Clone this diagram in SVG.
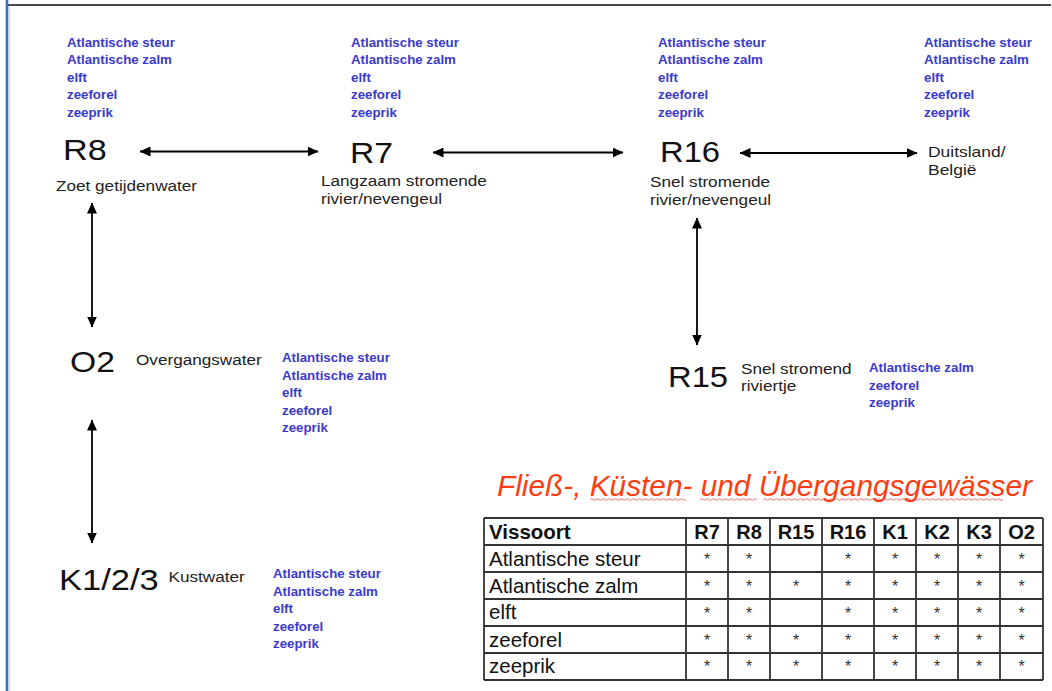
<svg xmlns="http://www.w3.org/2000/svg" width="1052" height="691" viewBox="0 0 1052 691">
<style>
.big{font-family:"Liberation Sans",Arial,sans-serif;font-size:29.5px;fill:#111}
.lbl{font-family:"Liberation Sans",Arial,sans-serif;font-size:14.3px;fill:#222}
.fish{font-family:"Liberation Sans",Arial,sans-serif;font-size:13.3px;font-weight:bold;fill:#3a3acc}
.tt{font-family:"Liberation Sans",Arial,sans-serif;font-size:20.5px;fill:#111}
.th{font-family:"Liberation Sans",Arial,sans-serif;font-size:20px;font-weight:bold;fill:#111;text-anchor:middle}
.star{font-family:"Liberation Sans",Arial,sans-serif;font-size:16px;fill:#333;text-anchor:middle}
.title{font-family:"Liberation Sans",Arial,sans-serif;font-size:29.8px;font-style:italic;fill:#ff3c0f}
.conn{stroke:#000;stroke-width:1.8;fill:none;marker-start:url(#ah);marker-end:url(#ah)}
.grid{stroke:#333;stroke-width:1.8;fill:none}
.squig{stroke:#e05050;stroke-width:0.8;fill:none}
</style>
<defs>
<marker id="ah" markerUnits="userSpaceOnUse" viewBox="0 0 11 10" refX="10.5" refY="5" markerWidth="11" markerHeight="10" orient="auto-start-reverse">
<path d="M0,0 L11,5 L0,10 z" fill="#000"/>
</marker>
</defs>
<rect width="1052" height="691" fill="#fff"/>
<g id="frame">
<line x1="7" y1="5" x2="1051" y2="5" stroke="#4a4a4a" stroke-width="2.2"/>
<line x1="7" y1="0" x2="7" y2="691" stroke="#2f6fbd" stroke-width="2.6"/>
<line x1="9.5" y1="7" x2="9.5" y2="691" stroke="#d8d8d8" stroke-width="1"/>
</g>
<g id="connectors">
<line class="conn" x1="140" y1="151.5" x2="318" y2="151.5"/>
<line class="conn" x1="433" y1="152.5" x2="623" y2="152.5"/>
<line class="conn" x1="740" y1="153" x2="917" y2="153"/>
<line class="conn" x1="92" y1="203" x2="92" y2="327"/>
<line class="conn" x1="92" y1="420" x2="92" y2="543"/>
<line class="conn" x1="697" y1="218" x2="697" y2="345"/>
</g>
<g id="node-R8">
<text class="fish" x="67" y="46.5">Atlantische steur</text>
<text class="fish" x="67" y="64">Atlantische zalm</text>
<text class="fish" x="67" y="81.5">elft</text>
<text class="fish" x="67" y="99">zeeforel</text>
<text class="fish" x="67" y="116.5">zeeprik</text>
<text class="big" transform="translate(63 160) scale(1.16 1)">R8</text>
<text class="lbl" transform="translate(56 190.5) scale(1.2 1)">Zoet getijdenwater</text>
</g>
<g id="node-R7">
<text class="fish" x="351" y="46.5">Atlantische steur</text>
<text class="fish" x="351" y="64">Atlantische zalm</text>
<text class="fish" x="351" y="81.5">elft</text>
<text class="fish" x="351" y="99">zeeforel</text>
<text class="fish" x="351" y="116.5">zeeprik</text>
<text class="big" transform="translate(350 163) scale(1.14 1)">R7</text>
<text class="lbl" transform="translate(321 185.5) scale(1.2 1)">Langzaam stromende</text>
<text class="lbl" transform="translate(321 204) scale(1.2 1)">rivier/nevengeul</text>
</g>
<g id="node-R16">
<text class="fish" x="658" y="46.5">Atlantische steur</text>
<text class="fish" x="658" y="64">Atlantische zalm</text>
<text class="fish" x="658" y="81.5">elft</text>
<text class="fish" x="658" y="99">zeeforel</text>
<text class="fish" x="658" y="116.5">zeeprik</text>
<text class="big" transform="translate(660 161.5) scale(1.11 1)">R16</text>
<text class="lbl" transform="translate(650 186.5) scale(1.2 1)">Snel stromende</text>
<text class="lbl" transform="translate(650 204.5) scale(1.2 1)">rivier/nevengeul</text>
</g>
<g id="node-DE-BE">
<text class="fish" x="924" y="46.5">Atlantische steur</text>
<text class="fish" x="924" y="64">Atlantische zalm</text>
<text class="fish" x="924" y="81.5">elft</text>
<text class="fish" x="924" y="99">zeeforel</text>
<text class="fish" x="924" y="116.5">zeeprik</text>
<text class="lbl" transform="translate(928 156.5) scale(1.22 1)">Duitsland/</text>
<text class="lbl" transform="translate(928 174.5) scale(1.22 1)">België</text>
</g>
<g id="node-O2">
<text class="big" transform="translate(70 372) scale(1.14 1)">O2</text>
<text class="lbl" transform="translate(136 364.5) scale(1.2 1)">Overgangswater</text>
<text class="fish" x="282" y="362">Atlantische steur</text>
<text class="fish" x="282" y="379.5">Atlantische zalm</text>
<text class="fish" x="282" y="397">elft</text>
<text class="fish" x="282" y="414.5">zeeforel</text>
<text class="fish" x="282" y="432">zeeprik</text>
</g>
<g id="node-R15">
<text class="big" transform="translate(668 387) scale(1.11 1)">R15</text>
<text class="lbl" transform="translate(741 373.5) scale(1.2 1)">Snel stromend</text>
<text class="lbl" transform="translate(741 391) scale(1.2 1)">riviertje</text>
<text class="fish" x="869" y="372">Atlantische zalm</text>
<text class="fish" x="869" y="389.5">zeeforel</text>
<text class="fish" x="869" y="407">zeeprik</text>
</g>
<g id="node-K">
<text class="big" transform="translate(59 589.5) scale(1.17 1)">K1/2/3</text>
<text class="lbl" transform="translate(168.5 582) scale(1.2 1)">Kustwater</text>
<text class="fish" x="273" y="578">Atlantische steur</text>
<text class="fish" x="273" y="595.5">Atlantische zalm</text>
<text class="fish" x="273" y="613">elft</text>
<text class="fish" x="273" y="630.5">zeeforel</text>
<text class="fish" x="273" y="648">zeeprik</text>
</g>
<g id="title">
<text class="title" x="497" y="495.5">Fließ-, Küsten- und Übergangsgewässer</text>
<path class="squig" d="M590,499.5 q1.5,-1.5 3,0 t3,0 t3,0 t3,0 t3,0 t3,0 t3,0 t3,0 t3,0 t3,0 t3,0 t3,0 t3,0 t3,0 t3,0 t3,0 t3,0 t3,0 t3,0 t3,0 t3,0 t3,0 t3,0 t3,0 t3,0 t3,0 t3,0 t3,0 t3,0 t3,0 t3,0 t3,0"/>
<path class="squig" d="M700,499.5 q1.5,-1.5 3,0 t3,0 t3,0 t3,0 t3,0 t3,0 t3,0 t3,0 t3,0 t3,0 t3,0 t3,0 t3,0 t3,0 t3,0 t3,0 t3,0 t3,0 t3,0"/>
<path class="squig" d="M763,499.5 q1.5,-1.5 3,0 t3,0 t3,0 t3,0 t3,0 t3,0 t3,0 t3,0 t3,0 t3,0 t3,0 t3,0 t3,0 t3,0 t3,0 t3,0 t3,0 t3,0 t3,0 t3,0 t3,0 t3,0 t3,0 t3,0 t3,0 t3,0 t3,0 t3,0 t3,0 t3,0 t3,0 t3,0 t3,0 t3,0 t3,0 t3,0 t3,0 t3,0 t3,0 t3,0 t3,0 t3,0 t3,0 t3,0 t3,0 t3,0 t3,0 t3,0 t3,0 t3,0 t3,0 t3,0 t3,0 t3,0 t3,0 t3,0 t3,0 t3,0 t3,0 t3,0 t3,0 t3,0 t3,0 t3,0 t3,0 t3,0 t3,0 t3,0 t3,0 t3,0 t3,0 t3,0 t3,0 t3,0 t3,0 t3,0 t3,0 t3,0 t3,0 t3,0"/>
</g>
<g id="table">
<path class="grid" d="M484,518H1043M484,545H1043M484,572H1043M484,599H1043M484,626H1043M484,653H1043M484,680H1043M484,518V680M686,518V680M728,518V680M770,518V680M822,518V680M874,518V680M916,518V680M958,518V680M1000,518V680M1043,518V680"/>
<text class="tt" x="489" y="539" font-weight="bold">Vissoort</text>
<text class="th" x="707" y="539">R7</text>
<text class="th" x="749" y="539">R8</text>
<text class="th" x="796" y="539">R15</text>
<text class="th" x="848" y="539">R16</text>
<text class="th" x="895" y="539">K1</text>
<text class="th" x="937" y="539">K2</text>
<text class="th" x="979" y="539">K3</text>
<text class="th" x="1021.5" y="539">O2</text>
<text class="tt" x="489" y="565.5">Atlantische steur</text>
<text class="tt" x="489" y="592.5">Atlantische zalm</text>
<text class="tt" x="489" y="619">elft</text>
<text class="tt" x="489" y="646.5">zeeforel</text>
<text class="tt" x="489" y="672.5">zeeprik</text>
<g class="stars">
<text class="star" x="707" y="565">*</text><text class="star" x="749" y="565">*</text><text class="star" x="848" y="565">*</text><text class="star" x="895" y="565">*</text><text class="star" x="937" y="565">*</text><text class="star" x="979" y="565">*</text><text class="star" x="1021.5" y="565">*</text>
<text class="star" x="707" y="592">*</text><text class="star" x="749" y="592">*</text><text class="star" x="796" y="592">*</text><text class="star" x="848" y="592">*</text><text class="star" x="895" y="592">*</text><text class="star" x="937" y="592">*</text><text class="star" x="979" y="592">*</text><text class="star" x="1021.5" y="592">*</text>
<text class="star" x="707" y="619">*</text><text class="star" x="749" y="619">*</text><text class="star" x="848" y="619">*</text><text class="star" x="895" y="619">*</text><text class="star" x="937" y="619">*</text><text class="star" x="979" y="619">*</text><text class="star" x="1021.5" y="619">*</text>
<text class="star" x="707" y="646">*</text><text class="star" x="749" y="646">*</text><text class="star" x="796" y="646">*</text><text class="star" x="848" y="646">*</text><text class="star" x="895" y="646">*</text><text class="star" x="937" y="646">*</text><text class="star" x="979" y="646">*</text><text class="star" x="1021.5" y="646">*</text>
<text class="star" x="707" y="672">*</text><text class="star" x="749" y="672">*</text><text class="star" x="796" y="672">*</text><text class="star" x="848" y="672">*</text><text class="star" x="895" y="672">*</text><text class="star" x="937" y="672">*</text><text class="star" x="979" y="672">*</text><text class="star" x="1021.5" y="672">*</text>
</g>
</g>
</svg>
